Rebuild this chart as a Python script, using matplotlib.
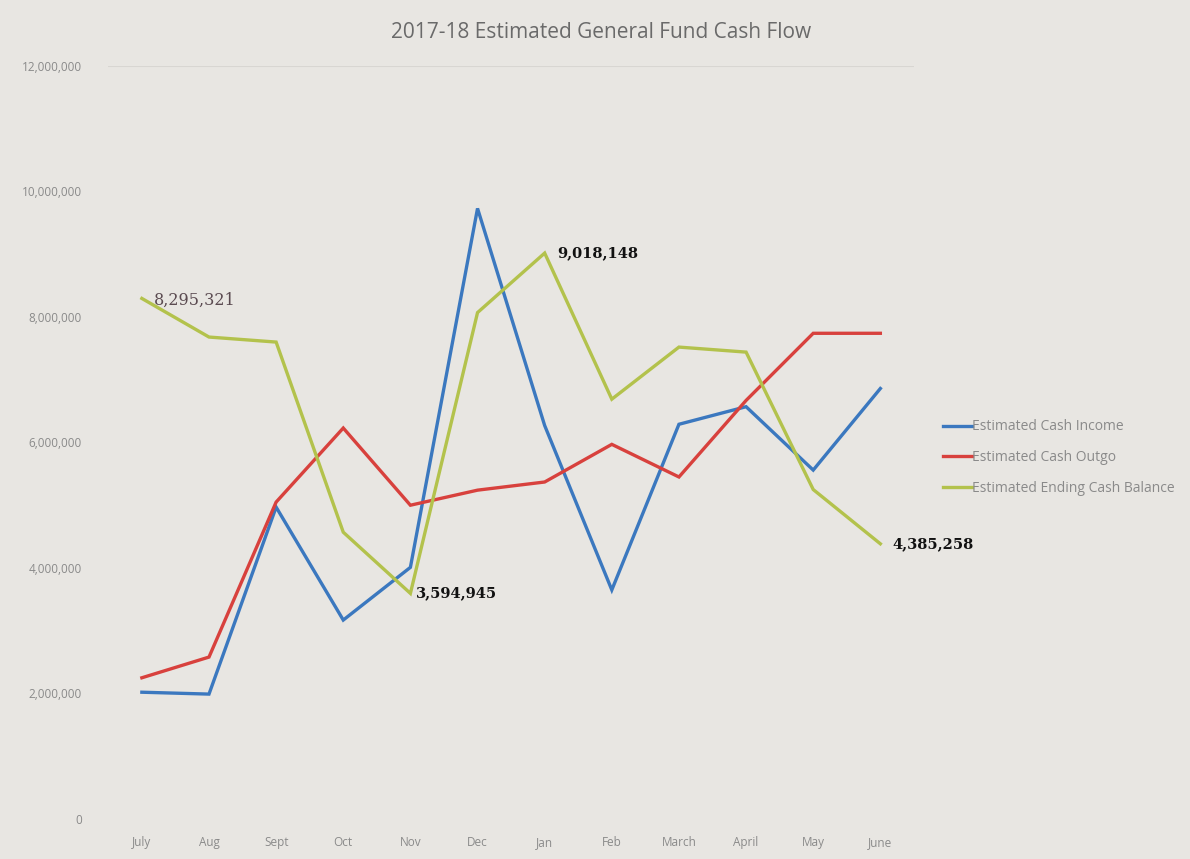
import matplotlib
matplotlib.use("Agg")
import matplotlib.pyplot as plt
from matplotlib.ticker import FuncFormatter

months = ["July", "Aug", "Sept", "Oct", "Nov", "Dec", "Jan", "Feb", "March", "April", "May", "June"]
income = [2020000, 1990000, 4970000, 3170000, 4010000, 9730000, 6270000, 3650000, 6290000, 6570000, 5560000, 6860000]
outgo = [2250000, 2580000, 5050000, 6230000, 5000000, 5240000, 5370000, 5970000, 5450000, 6670000, 7740000, 7740000]
balance = [8295321, 7680000, 7600000, 4570000, 3594945, 8070000, 9018148, 6690000, 7520000, 7440000, 5250000, 4385258]
labeled = {0: "8,295,321", 4: "3,594,945", 6: "9,018,148", 11: "4,385,258"}
yticks = [0, 2000000, 4000000, 6000000, 8000000, 10000000, 12000000]

plt.rcParams['font.family'] = ['Open Sans', 'DejaVu Sans']
bg = '#e8e6e2'
fig = plt.figure(figsize=(11.9, 8.59), dpi=100, facecolor=bg)
ax = fig.add_axes([0.091, 0.0466, 0.677, 0.8766], facecolor=bg)

x = list(range(len(months)))
ax.plot(x, income, color='#3b78bf', lw=2.4, label='Estimated Cash Income', solid_joinstyle='miter')
ax.plot(x, outgo, color='#d8413d', lw=2.4, label='Estimated Cash Outgo', solid_joinstyle='miter')
ax.plot(x, balance, color='#b3c24c', lw=2.4, label='Estimated Ending Cash Balance', solid_joinstyle='miter')

ax.set_xlim(-0.5, len(months) - 0.5)
ax.set_ylim(0, 12000000)
ax.set_yticks(yticks)
ax.yaxis.set_major_formatter(FuncFormatter(lambda v, p: f"{int(v):,}"))
ax.set_xticks(x)
ax.set_xticklabels(months)
ax.tick_params(axis='both', length=0, labelsize=8.5, colors='#8a8a8a')
ax.tick_params(axis='y', pad=19)
ax.tick_params(axis='x', pad=12)
for s in ax.spines.values():
    s.set_visible(False)
ax.axhline(12000000, color='#d8d6d2', lw=0.8)

for i, txt in labeled.items():
    if i == 0:
        ax.annotate(txt, (x[i], balance[i]), xytext=(9, -1), textcoords='offset points',
                    fontsize=11.5, color='#5a4a50', family='DejaVu Serif', va='center', ha='left')
    elif i == 4:
        ax.annotate(txt, (x[i], balance[i]), xytext=(4, 0), textcoords='offset points',
                    fontsize=10.5, color='#111111', fontweight='bold', family='DejaVu Serif', va='center', ha='left')
    else:
        ax.annotate(txt, (x[i], balance[i]), xytext=(9, 0), textcoords='offset points',
                    fontsize=10.5, color='#111111', fontweight='bold', family='DejaVu Serif', va='center', ha='left')

fig.text(0.505, 0.962, "2017-18 Estimated General Fund Cash Flow", ha='center', va='center',
         fontsize=15, color='#6a6a6a')

leg = fig.legend(loc='center left', bbox_to_anchor=(0.782, 0.467), frameon=False,
                 fontsize=10, handlelength=2.1, labelspacing=1.15, handletextpad=0.0)
for t in leg.get_texts():
    t.set_color('#8a8a8a')

fig.savefig('out.png', dpi=100, facecolor=bg)
